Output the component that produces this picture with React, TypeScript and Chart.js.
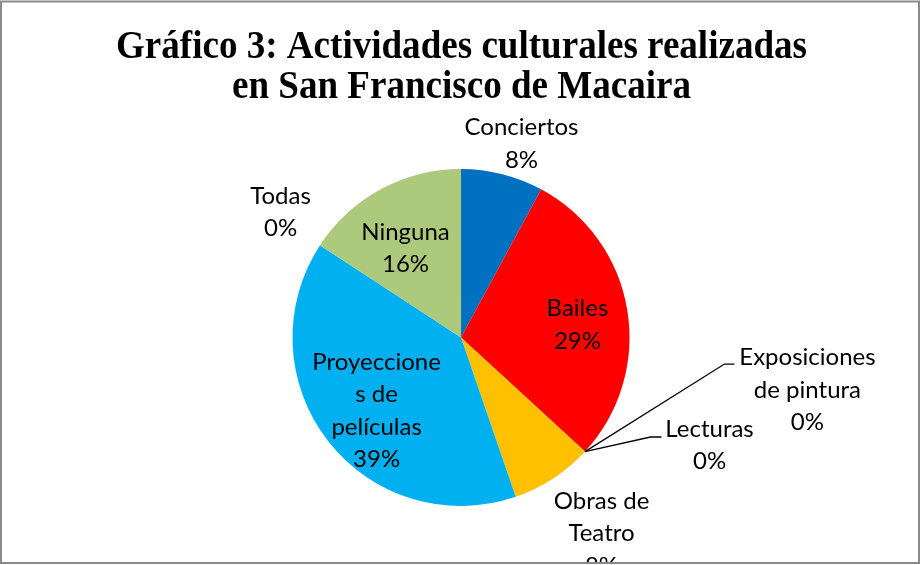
import React, { useEffect, useRef } from "react";
import { Chart, registerables } from "chart.js";

Chart.register(...registerables);

const titleLines = ["Gráfico 3: Actividades culturales realizadas", "en San Francisco de Macaira"];
const categories = [
  "Conciertos",
  "Bailes",
  "Exposiciones de pintura",
  "Lecturas",
  "Obras de Teatro",
  "Proyecciones de películas",
  "Todas",
  "Ninguna",
];
const counts = [3, 11, 0, 0, 3, 15, 0, 6];
const colors = ["#0070C0", "#FF0000", "#A5A5A5", "#4472C4", "#FFC000", "#00B0F0", "#7030A0", "#ADC97B"];
const labelLines = [
  ["Conciertos"],
  ["Bailes"],
  ["Exposiciones", "de pintura"],
  ["Lecturas"],
  ["Obras de", "Teatro"],
  ["Proyeccione", "s de", "películas"],
  ["Todas"],
  ["Ninguna"],
];
// label block centre relative to pie centre, in units of pie radius
const labelOffsets: [number, number][] = [
  [0.359, -1.154],
  [0.691, -0.08],
  [2.056, 0.306],
  [1.475, 0.635],
  [0.834, 1.16],
  [-0.501, 0.43],
  [-1.071, -0.748],
  [-0.329, -0.534],
];
// leader line knee / end, px relative to label block centre
const leaders: ([number, number][] | null)[] = [
  null,
  null,
  [[-83, -25], [-73, -25]],
  [[-59, -7.5], [-48, -7.5]],
  null,
  null,
  null,
  null,
];

const W = 921;
const H = 565;

export default function App() {
  const ref = useRef<HTMLCanvasElement>(null);
  useEffect(() => {
    document.body.style.margin = "0";
    const total = counts.reduce((a, b) => a + b, 0);
    const decor = {
      id: "decor",
      afterDraw(chart: any) {
        const ctx = chart.ctx as CanvasRenderingContext2D;
        const meta = chart.getDatasetMeta(0);
        ctx.save();
        ctx.beginPath();
        ctx.rect(2, 2.5, W - 4, 559.5);
        ctx.clip();
        // title
        ctx.fillStyle = "#000";
        ctx.font = "bold 41px 'Liberation Serif'";
        ctx.textAlign = "center";
        ctx.textBaseline = "alphabetic";
        const w1 = ctx.measureText(titleLines[0]).width;
        const sx = 691 / w1;
        const tb = [58, 98];
        titleLines.forEach((t, i) => {
          ctx.save();
          ctx.translate(461.5, tb[i]);
          ctx.scale(sx, 1);
          ctx.fillText(t, 0, 0);
          ctx.restore();
        });
        // labels
        ctx.font = "24px Lato";
        const lh = 32.5;
        meta.data.forEach((arc: any, i: number) => {
          const r = arc.outerRadius;
          const cx = arc.x + labelOffsets[i][0] * r;
          const cy = arc.y + labelOffsets[i][1] * r;
          const pct = Math.round((counts[i] / total) * 100) + "%";
          const lines = [...labelLines[i], pct];
          const n = lines.length;
          lines.forEach((t, j) => {
            ctx.fillText(t, cx, cy + 8.5 + (j - (n - 1) / 2) * lh);
          });
          const ld = leaders[i];
          if (ld) {
            const a = arc.startAngle;
            const sxp = arc.x + Math.cos(a) * r;
            const syp = arc.y + Math.sin(a) * r;
            ctx.beginPath();
            ctx.moveTo(sxp, syp);
            ld.forEach((p) => ctx.lineTo(cx + p[0], cy + p[1]));
            ctx.strokeStyle = "#000";
            ctx.lineWidth = 1.3;
            ctx.stroke();
          }
        });
        ctx.restore();
        // frame
        ctx.save();
        ctx.strokeStyle = "#8a8a8a";
        ctx.lineWidth = 2;
        ctx.strokeRect(1, 1.5, 918, 561.5);
        ctx.restore();
      },
    };
    const chart = new Chart(ref.current!, {
      type: "pie",
      data: {
        labels: categories,
        datasets: [
          {
            data: counts,
            backgroundColor: colors,
            borderWidth: 0,
          },
        ],
      },
      options: {
        responsive: false,
        animation: false,
        layout: { padding: { top: 169, bottom: 59, left: 1, right: 0 } },
        plugins: {
          legend: { display: false },
          tooltip: { enabled: false },
          title: { display: false },
        },
      },
      plugins: [decor],
    });
    return () => chart.destroy();
  }, []);
  return (
    <div style={{ width: W, height: H, background: "#fff" }}>
      <canvas ref={ref} width={W} height={H} style={{ display: "block" }} />
    </div>
  );
}
